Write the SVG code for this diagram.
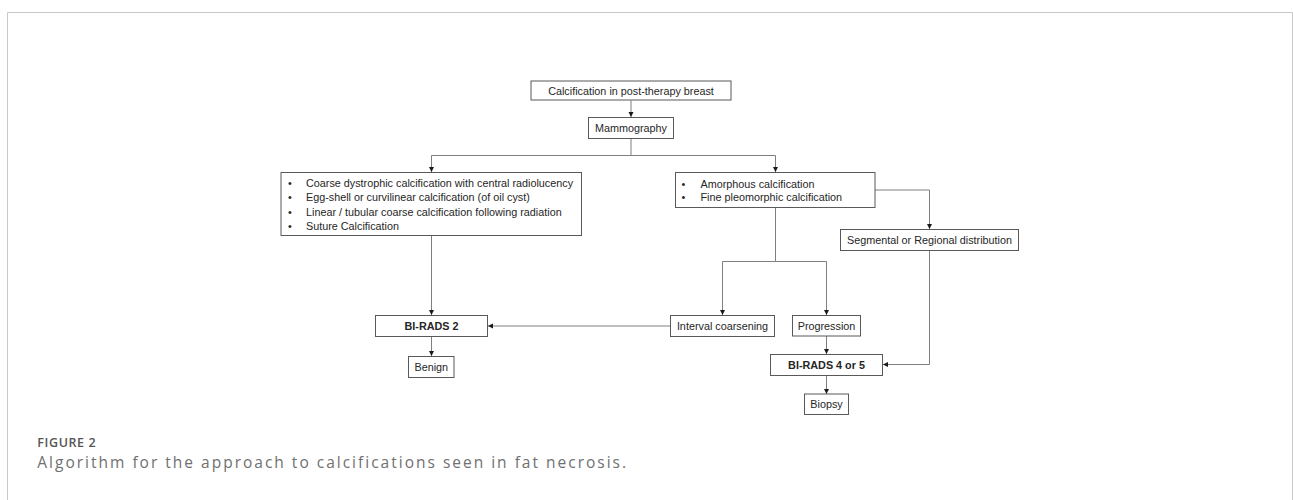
<svg xmlns="http://www.w3.org/2000/svg" width="1293" height="500" viewBox="0 0 1293 500">
<style>
.box{fill:#ffffff;stroke:#595959;stroke-width:1}
.t{font-family:"Liberation Sans",Arial,sans-serif;font-size:10.8px;fill:#262626}
.c{text-anchor:middle}
.b{font-weight:bold}
.ln{fill:none;stroke:#7f7f7f;stroke-width:1}
.cap1{font-family:"Open Sans","Noto Sans",sans-serif;font-size:12.5px;font-weight:600;fill:#555555;letter-spacing:0.6px}
.cap2{font-family:"Open Sans","Noto Sans",sans-serif;font-size:15.5px;fill:#707070;letter-spacing:2px}
</style>
<defs>
<marker id="ah" markerUnits="userSpaceOnUse" markerWidth="6" markerHeight="6" refX="5" refY="2.5" orient="auto">
<path d="M0,0 L5,2.5 L0,5 Z" fill="#1a1a1a"/>
</marker>
</defs>
<rect width="1293" height="500" fill="#ffffff"/>
<path d="M7.5,501 V12.5 H1292.5 V501" fill="none" stroke="#c8c8c8" stroke-width="1"/>

<g id="connectors">
<path class="ln" d="M631,100.5 V117" marker-end="url(#ah)"/>
<path class="ln" d="M631,138.5 V155.5 H431.5 V172" marker-end="url(#ah)"/>
<path class="ln" d="M631,155.5 H775.5 V172" marker-end="url(#ah)"/>
<path class="ln" d="M875,190 H929.5 V229" marker-end="url(#ah)"/>
<path class="ln" d="M431.5,235.5 V315" marker-end="url(#ah)"/>
<path class="ln" d="M775.5,207.5 V261.5 H722.5 V315" marker-end="url(#ah)"/>
<path class="ln" d="M775.5,261.5 H826.5 V315" marker-end="url(#ah)"/>
<path class="ln" d="M670.5,326 H488" marker-end="url(#ah)"/>
<path class="ln" d="M431.5,336.5 V356" marker-end="url(#ah)"/>
<path class="ln" d="M826.5,336 V354" marker-end="url(#ah)"/>
<path class="ln" d="M826.5,375.5 V394" marker-end="url(#ah)"/>
<path class="ln" d="M929.5,250.5 V364.5 H883" marker-end="url(#ah)"/>
</g>

<g id="n-start">
<rect class="box" x="531" y="81" width="200" height="19"/>
<text class="t c" x="631" y="94.5">Calcification in post-therapy breast</text>
</g>
<g id="n-mammo">
<rect class="box" x="588.5" y="117.5" width="85" height="21"/>
<text class="t c" x="631" y="131.8">Mammography</text>
</g>
<g id="n-benign-feat">
<rect class="box" x="281" y="172.5" width="300.5" height="63"/>
<text class="t" x="288" y="187.2">•</text>
<text class="t" x="306" y="187.2">Coarse dystrophic calcification with central radiolucency</text>
<text class="t" x="288" y="201.4">•</text>
<text class="t" x="306" y="201.4">Egg-shell or curvilinear calcification (of oil cyst)</text>
<text class="t" x="288" y="215.6">•</text>
<text class="t" x="306" y="215.6">Linear / tubular coarse calcification following radiation</text>
<text class="t" x="288" y="229.8">•</text>
<text class="t" x="306" y="229.8">Suture Calcification</text>
</g>
<g id="n-susp-feat">
<rect class="box" x="675.5" y="172.5" width="199.5" height="35"/>
<text class="t" x="681.5" y="188">•</text>
<text class="t" x="700.5" y="188">Amorphous calcification</text>
<text class="t" x="681.5" y="201.3">•</text>
<text class="t" x="700.5" y="201.3">Fine pleomorphic calcification</text>
</g>
<g id="n-segmental">
<rect class="box" x="840.5" y="229.5" width="178" height="21"/>
<text class="t c" x="929.5" y="243.8">Segmental or Regional distribution</text>
</g>
<g id="n-birads2">
<rect class="box" x="375.5" y="315.5" width="112" height="21"/>
<text class="t c b" x="431.5" y="329.8">BI-RADS 2</text>
</g>
<g id="n-interval">
<rect class="box" x="670.5" y="315.5" width="104" height="21"/>
<text class="t c" x="722.5" y="329.8">Interval coarsening</text>
</g>
<g id="n-progression">
<rect class="box" x="792.5" y="315.5" width="68" height="20.5"/>
<text class="t c" x="826.5" y="329.6">Progression</text>
</g>
<g id="n-benign">
<rect class="box" x="408.5" y="356.5" width="45.5" height="21"/>
<text class="t c" x="431.3" y="370.8">Benign</text>
</g>
<g id="n-birads45">
<rect class="box" x="770.5" y="354.5" width="112" height="21"/>
<text class="t c b" x="826.5" y="368.8">BI-RADS 4 or 5</text>
</g>
<g id="n-biopsy">
<rect class="box" x="804.5" y="394" width="44" height="20.5"/>
<text class="t c" x="826.5" y="408.1">Biopsy</text>
</g>

<text class="cap1" x="37.3" y="447">FIGURE 2</text>
<text class="cap2" x="37.3" y="467.5">Algorithm for the approach to calcifications seen in fat necrosis.</text>
</svg>
